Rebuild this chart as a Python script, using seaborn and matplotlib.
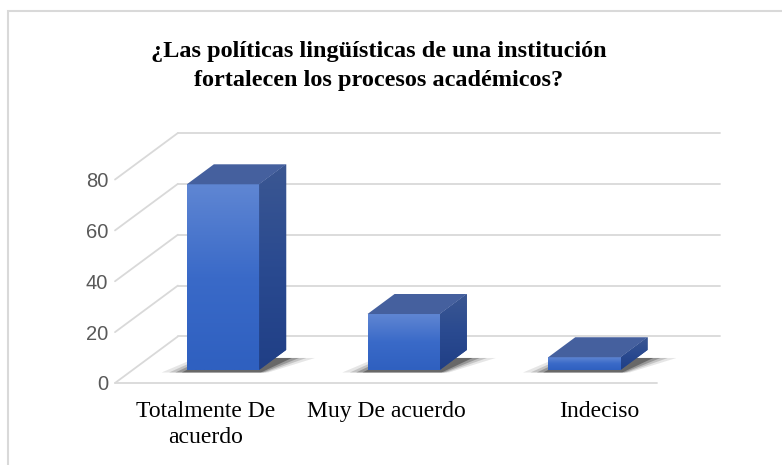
import numpy as np
import pandas as pd
import matplotlib
matplotlib.use("Agg")
import matplotlib.pyplot as plt
import seaborn as sns
from matplotlib.patches import Polygon, Rectangle
from matplotlib.lines import Line2D
from matplotlib.colors import LinearSegmentedColormap

# ---- data ----
categories = ["Totalmente De\nacuerdo", "Muy De acuerdo", "Indeciso"]
values = [73, 22, 5]
yticks = [0, 20, 40, 60, 80]
title = "¿Las políticas lingüísticas de una institución\nfortalecen los procesos académicos?"

# ---- style ----
sns.set_theme(style="white")
plt.rcParams["font.family"] = ["Liberation Sans", "DejaVu Sans"]

W, H = 782, 465
fig = plt.figure(figsize=(W / 100, H / 100), dpi=100)
L, R, B, T = 115, 720, 383, 133
ax = fig.add_axes([L / W, 1 - B / H, (R - L) / W, (B - T) / H])

DX, DY = 0.348, 18.3          # depth vector (data units)
F0, F1 = 0.28, 0.71           # bar depth placement (fraction)
GRID = "#d9d9d9"

df = pd.DataFrame({"cat": categories, "val": values})
sns.barplot(data=df, x="cat", y="val", width=0.4, color="#3f6cc6",
            saturation=1, ax=ax, zorder=3, errorbar=None)

ax.set_xlim(-0.5, 2.5 + DX)
ax.set_ylim(0, 80 + DY)

# walls / grid
for v in yticks:
    ax.add_line(Line2D([-0.5, -0.5 + DX], [v, v + DY], color=GRID, lw=1.3,
                       clip_on=False, zorder=1))
    ax.add_line(Line2D([-0.5 + DX, 2.5 + DX], [v + DY, v + DY], color=GRID,
                       lw=1.3, clip_on=False, zorder=1))
ax.add_line(Line2D([-0.5, 2.5], [0, 0], color=GRID, lw=1.3, clip_on=False, zorder=1))

ddx, ddy = (F1 - F0) * DX, (F1 - F0) * DY
ox, oy = F0 * DX, F0 * DY

front_grad = np.linspace(0, 1, 100).reshape(-1, 1)
cm_front = LinearSegmentedColormap.from_list("f", ["#2f60c0", "#3a6ac8", "#5f86d3"])
cm_side = LinearSegmentedColormap.from_list("s", ["#203f86", "#2a4a90", "#3b5792"])

for p in list(ax.patches):
    x0, w, h = p.get_x(), p.get_width(), p.get_height()
    x0 += ox
    y0 = oy
    p.set_x(x0)
    p.set_y(y0)
    p.set_edgecolor("none")
    # soft shadow on the floor
    for k, a in [(0.10, 0.10), (0.07, 0.16), (0.045, 0.24), (0.02, 0.35)]:
        shp = Polygon([(x0 - k * 1.4, y0 - 1.0), (x0 + w + k * 0.5, y0 - 1.0),
                       (x0 + w + ddx + k * 1.6, y0 + ddy * 0.6),
                       (x0 + ddx - k, y0 + ddy * 0.6)],
                      closed=True, facecolor="#111111", alpha=a,
                      edgecolor="none", zorder=2)
        ax.add_patch(shp)
    # front gradient
    im = ax.imshow(front_grad, extent=(x0, x0 + w, y0, y0 + h), origin="lower",
                   cmap=cm_front, aspect="auto", zorder=3.5, interpolation="bilinear")
    im.set_clip_path(p)
    # side face
    side = Polygon([(x0 + w, y0), (x0 + w + ddx, y0 + ddy),
                    (x0 + w + ddx, y0 + h + ddy), (x0 + w, y0 + h)],
                   closed=True, facecolor="#2a4a90", edgecolor="none", zorder=3)
    ax.add_patch(side)
    ims = ax.imshow(front_grad, extent=(x0 + w, x0 + w + ddx, y0, y0 + h + ddy),
                    origin="lower", cmap=cm_side, aspect="auto", zorder=3.5,
                    interpolation="bilinear")
    ims.set_clip_path(side)
    # top face
    top = Polygon([(x0, y0 + h), (x0 + w, y0 + h), (x0 + w + ddx, y0 + h + ddy),
                   (x0 + ddx, y0 + h + ddy)], closed=True,
                  facecolor="#45609e", edgecolor="none", zorder=4)
    ax.add_patch(top)

ax.set_xlim(-0.5, 2.5 + DX)
ax.set_ylim(0, 80 + DY)
for s in ax.spines.values():
    s.set_visible(False)

ax.set_yticks(yticks)
ax.set_yticklabels([str(v) for v in yticks], fontsize=14.5, color="#595959")
ax.tick_params(axis="y", length=0, pad=5)
label_pos = [0.0, 1.0, 2.18]
ax.set_xticks(label_pos)
ax.set_xticklabels(categories, fontsize=17, family=["Liberation Serif"],
                   color="black", linespacing=1.3)
ax.tick_params(axis="x", length=0, pad=13)
ax.set_xlabel("")
ax.set_ylabel("")
ax.grid(False)

fig.text(379 / W, 1 - 66 / H, title, ha="center", va="center", fontsize=17.5,
         fontweight="bold", family=["Liberation Serif"], linespacing=1.45,
         color="black")

# chart-area border
fig.add_artist(Rectangle((8 / W, -0.1), 1.2, 1 - 11 / H + 0.1,
                         transform=fig.transFigure, fill=False,
                         edgecolor="#d9d9d9", lw=1.5))

fig.savefig("out.png", dpi=100, facecolor="white")
